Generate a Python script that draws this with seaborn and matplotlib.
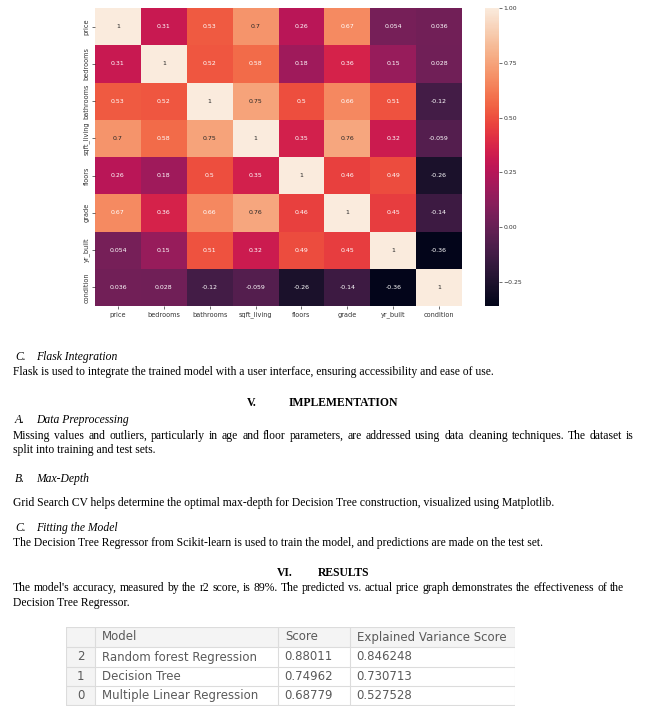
import numpy as np
import pandas as pd
import matplotlib
matplotlib.use('Agg')
import matplotlib.pyplot as plt
import seaborn as sns

# correlation matrix
features = ['price', 'bedrooms', 'bathrooms', 'sqft_living', 'floors', 'grade', 'yr_built', 'condition']
price = [1, 0.31, 0.53, 0.7, 0.26, 0.67, 0.054, 0.036]
bedrooms = [0.31, 1, 0.52, 0.58, 0.18, 0.36, 0.15, 0.028]
bathrooms = [0.53, 0.52, 1, 0.75, 0.5, 0.66, 0.51, -0.12]
sqft_living = [0.7, 0.58, 0.75, 1, 0.35, 0.76, 0.32, -0.059]
floors = [0.26, 0.18, 0.5, 0.35, 1, 0.46, 0.49, -0.26]
grade = [0.67, 0.36, 0.66, 0.76, 0.46, 1, 0.45, -0.14]
yr_built = [0.054, 0.15, 0.51, 0.32, 0.49, 0.45, 1, -0.36]
condition = [0.036, 0.028, -0.12, -0.059, -0.26, -0.14, -0.36, 1]

# results table
row_index = ['2', '1', '0']
models = ['Random forest Regression', 'Decision Tree', 'Multiple Linear Regression']
scores = ['0.88011', '0.74962', '0.68779']
explained_var = ['0.846248', '0.730713', '0.527528']
table_header = ['', 'Model', 'Score', 'Explained Variance Score']

corr = pd.DataFrame([price, bedrooms, bathrooms, sqft_living, floors, grade, yr_built, condition],
                    index=features, columns=features)

W, H = 655, 711
fig = plt.figure(figsize=(W / 100, H / 100), dpi=100)
fig.patch.set_facecolor('white')
renderer = fig.canvas.get_renderer()


def box(x0, y0, x1, y1):
    # pixel box (top-left origin) -> figure fraction rect
    return [x0 / W, 1 - y1 / H, (x1 - x0) / W, (y1 - y0) / H]


# heatmap
ax = fig.add_axes(box(95, 8, 462, 306))
cax = fig.add_axes(box(485, 8, 499, 306))
sns.heatmap(corr, annot=True, ax=ax, cbar_ax=cax, annot_kws={'size': 4.5})
ax.tick_params(axis='both', labelsize=4.7, length=2, width=0.4, pad=2, labelcolor='#333333')
ax.set_yticklabels(features, rotation=90, va='center')
ax.set_xticklabels(features, rotation=0)
cax.tick_params(labelsize=4.4, length=2, width=0.4, pad=1, labelcolor='#333333')
cax.set_yticks([1.0, 0.75, 0.5, 0.25, 0.0, -0.25])
cax.set_yticklabels(['1.00', '0.75', '0.50', '0.25', '0.00', '\u22120.25'])

# page text
serif = ['Liberation Serif', 'DejaVu Serif']
fs = 8.4


def para(x, y, s, **kw):
    return fig.text(x / W, 1 - y / H, s, family=serif, fontsize=fs, va='center', ha='left', **kw)


def text_width(s):
    t = para(0, 0, s)
    w = t.get_window_extent(renderer).width
    t.remove()
    return w


def justified(x0, x1, y, s):
    # natural word positions, then spread the leftover space over the gaps
    words = s.split(' ')
    extra = (x1 - x0 - text_width(s)) / (len(words) - 1)
    for i, w in enumerate(words):
        start = text_width(' '.join(words[:i + 1])) - text_width(w)
        para(x0 + start + extra * i, y, w)


para(15, 357, 'C.', style='italic')
para(36, 357, 'Flask Integration', style='italic')
para(13, 372, 'Flask is used to integrate the trained model with a user interface, ensuring accessibility and ease of use.')
para(247, 403, 'V.', weight='bold')
para(289, 403, 'IMPLEMENTATION', weight='bold')
para(15, 420, 'A.', style='italic')
para(36, 420, 'Data Preprocessing', style='italic')
justified(13, 634, 436, 'Missing values and outliers, particularly in age and floor parameters, are addressed using data cleaning techniques. The dataset is')
para(13, 450, 'split into training and test sets.')
para(15, 479, 'B.', style='italic')
para(36, 479, 'Max-Depth', style='italic')
para(13, 503, 'Grid Search CV helps determine the optimal max-depth for Decision Tree construction, visualized using Matplotlib.')
para(15, 528, 'C.', style='italic')
para(36, 528, 'Fitting the Model', style='italic')
para(13, 543, 'The Decision Tree Regressor from Scikit-learn is used to train the model, and predictions are made on the test set.')
para(277, 573, 'VI.', weight='bold')
para(318, 573, 'RESULTS', weight='bold')
justified(13, 624, 588, "The model's accuracy, measured by the r2 score, is 89%. The predicted vs. actual price graph demonstrates the effectiveness of the")
para(13, 603, 'Decision Tree Regressor.')

# results table drawn in pixel coordinates
tax = fig.add_axes(box(66, 627, 515, 706))
tax.set_xlim(66, 515)
tax.set_ylim(706, 627)
tax.axis('off')
col_edges = [66, 95, 278, 350, 515]
row_edges = [627, 647, 667, 686, 705]
gray_fill = '#f4f4f4'
line_c = '#dcdcdc'
txt_c = '#5a5a5a'
tax.fill_between([66, 515], 627, 647, color=gray_fill, lw=0)
tax.fill_between([66, 95], 627, 705, color=gray_fill, lw=0)
for y in row_edges:
    tax.plot([66, 515], [y, y], color=line_c, lw=0.8)
for x in col_edges:
    tax.plot([x, x], [627, 705], color=line_c, lw=0.8)

sans = ['DejaVu Sans']
tfs = 8.5
for j, h in enumerate(table_header):
    if h:
        tax.text(col_edges[j] + 7, 637, h, family=sans, fontsize=tfs, color=txt_c, va='center')
for i in range(len(models)):
    yc = (row_edges[i + 1] + row_edges[i + 2]) / 2
    tax.text((col_edges[0] + col_edges[1]) / 2, yc, row_index[i], family=sans, fontsize=tfs, color=txt_c,
             va='center', ha='center')
    tax.text(col_edges[1] + 7, yc, models[i], family=sans, fontsize=tfs, color=txt_c, va='center')
    tax.text(col_edges[2] + 6, yc, scores[i], family=sans, fontsize=tfs, color=txt_c, va='center')
    tax.text(col_edges[3] + 6, yc, explained_var[i], family=sans, fontsize=tfs, color=txt_c, va='center')

fig.savefig('out.png', dpi=100)
